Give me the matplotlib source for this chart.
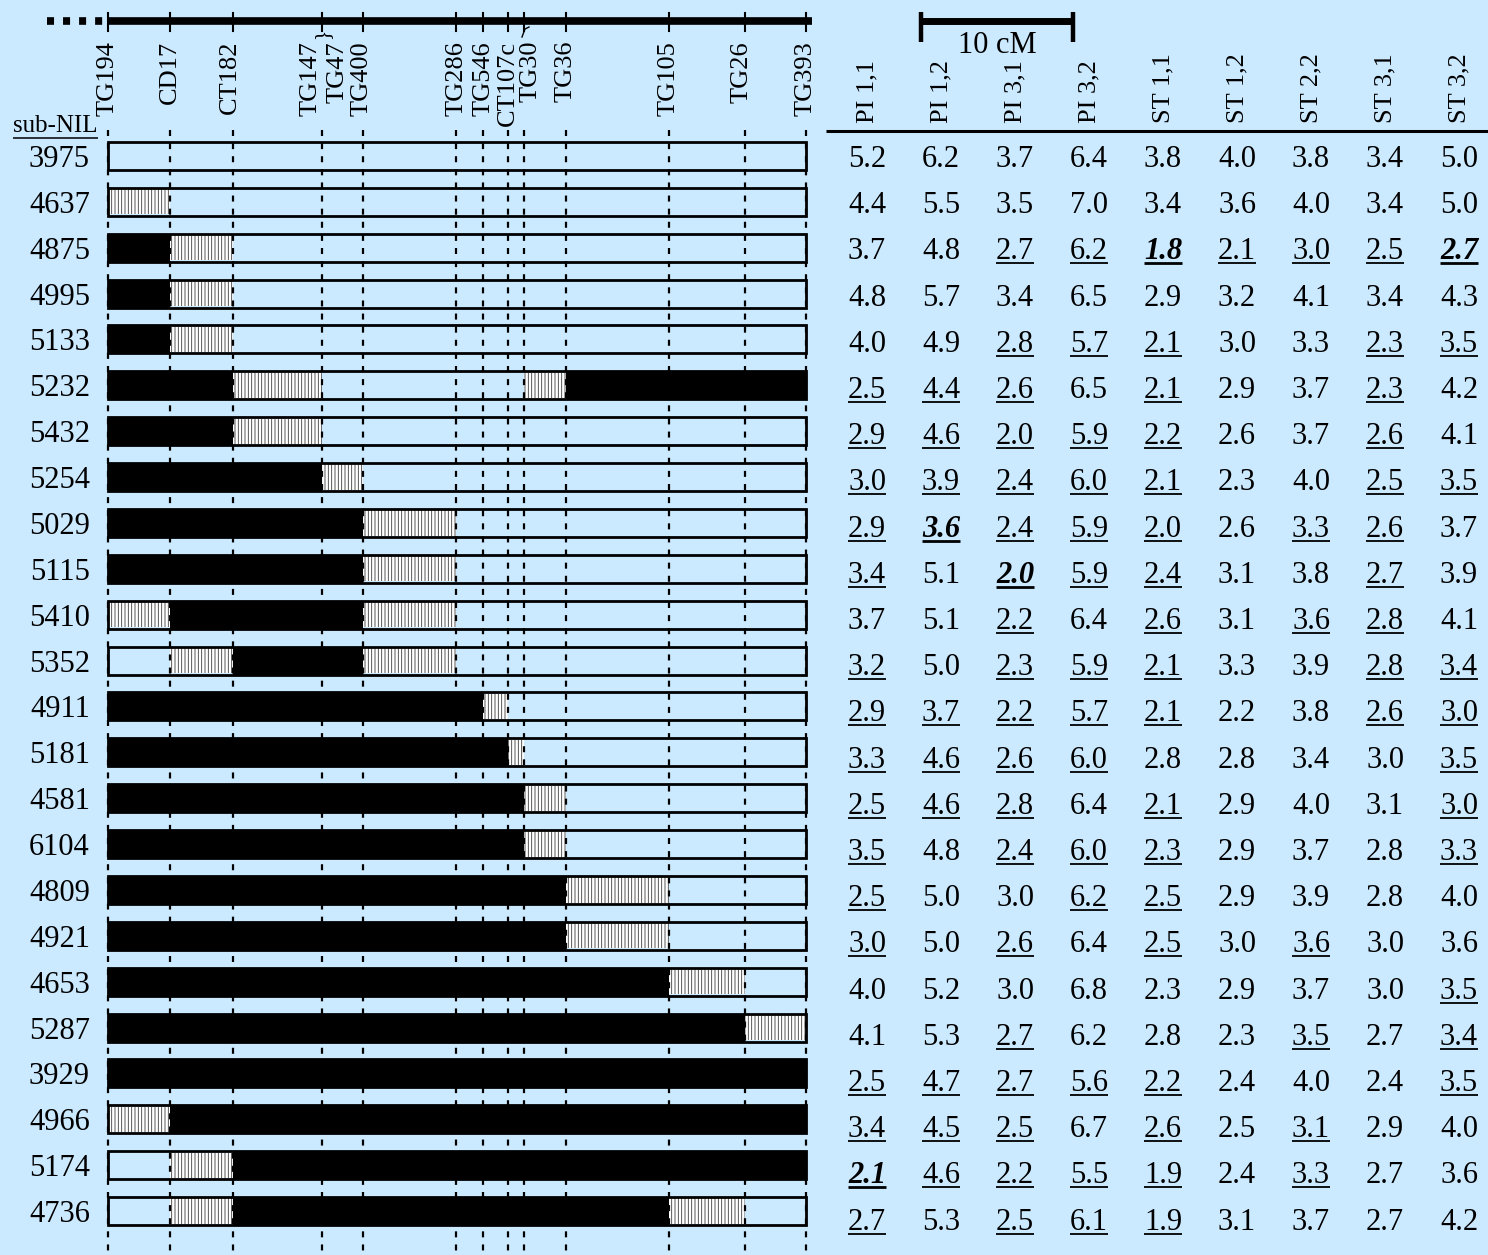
import matplotlib
matplotlib.use("Agg")
import matplotlib.pyplot as plt
from matplotlib.patches import Rectangle

plt.rcParams["font.family"] = ["Liberation Serif", "DejaVu Serif"]
plt.rcParams["hatch.linewidth"] = 0.6

# ---- genetic map of the introgressed region (cM from TG194) ----
markers = ["TG194", "CD17", "CT182", "TG147", "TG47", "TG400", "TG286", "TG546",
           "CT107c", "TG30", "TG36", "TG105", "TG26", "TG393"]
marker_cM = [0.0, 4.1, 8.2, 14.1, 14.1, 16.8, 22.9, 24.7, 26.3, 27.4, 30.1, 36.9, 41.9, 45.9]

# ---- sub-NIL graphical genotypes, one code per marker interval ----
# B = introgressed, H = breakpoint interval, . = recurrent parent
sub_nils = ["3975", "4637", "4875", "4995", "5133", "5232", "5432", "5254", "5029", "5115",
            "5410", "5352", "4911", "5181", "4581", "6104", "4809", "4921", "4653", "5287",
            "3929", "4966", "5174", "4736"]
genotypes = ["............", "H...........", "BH..........", "BH..........", "BH..........",
             "BBH.....HBBB", "BBH.........", "BBBH........", "BBBBH.......", "BBBBH.......",
             "HBBBH.......", ".HBBH.......", "BBBBBBH.....", "BBBBBBBH....", "BBBBBBBBH...",
             "BBBBBBBBH...", "BBBBBBBBBH..", "BBBBBBBBBH..", "BBBBBBBBBBH.", "BBBBBBBBBBBH",
             "BBBBBBBBBBBB", "HBBBBBBBBBBB", ".HBBBBBBBBBB", ".HBBBBBBBBH."]

# ---- trait means per sub-NIL ----
traits = ["PI 1,1", "PI 1,2", "PI 3,1", "PI 3,2", "ST 1,1", "ST 1,2", "ST 2,2", "ST 3,1", "ST 3,2"]
pi_1_1 = [5.2, 4.4, 3.7, 4.8, 4.0, 2.5, 2.9, 3.0, 2.9, 3.4, 3.7, 3.2, 2.9, 3.3, 2.5, 3.5, 2.5, 3.0, 4.0, 4.1, 2.5, 3.4, 2.1, 2.7]
pi_1_2 = [6.2, 5.5, 4.8, 5.7, 4.9, 4.4, 4.6, 3.9, 3.6, 5.1, 5.1, 5.0, 3.7, 4.6, 4.6, 4.8, 5.0, 5.0, 5.2, 5.3, 4.7, 4.5, 4.6, 5.3]
pi_3_1 = [3.7, 3.5, 2.7, 3.4, 2.8, 2.6, 2.0, 2.4, 2.4, 2.0, 2.2, 2.3, 2.2, 2.6, 2.8, 2.4, 3.0, 2.6, 3.0, 2.7, 2.7, 2.5, 2.2, 2.5]
pi_3_2 = [6.4, 7.0, 6.2, 6.5, 5.7, 6.5, 5.9, 6.0, 5.9, 5.9, 6.4, 5.9, 5.7, 6.0, 6.4, 6.0, 6.2, 6.4, 6.8, 6.2, 5.6, 6.7, 5.5, 6.1]
st_1_1 = [3.8, 3.4, 1.8, 2.9, 2.1, 2.1, 2.2, 2.1, 2.0, 2.4, 2.6, 2.1, 2.1, 2.8, 2.1, 2.3, 2.5, 2.5, 2.3, 2.8, 2.2, 2.6, 1.9, 1.9]
st_1_2 = [4.0, 3.6, 2.1, 3.2, 3.0, 2.9, 2.6, 2.3, 2.6, 3.1, 3.1, 3.3, 2.2, 2.8, 2.9, 2.9, 2.9, 3.0, 2.9, 2.3, 2.4, 2.5, 2.4, 3.1]
st_2_2 = [3.8, 4.0, 3.0, 4.1, 3.3, 3.7, 3.7, 4.0, 3.3, 3.8, 3.6, 3.9, 3.8, 3.4, 4.0, 3.7, 3.9, 3.6, 3.7, 3.5, 4.0, 3.1, 3.3, 3.7]
st_3_1 = [3.4, 3.4, 2.5, 3.4, 2.3, 2.3, 2.6, 2.5, 2.6, 2.7, 2.8, 2.8, 2.6, 3.0, 3.1, 2.8, 2.8, 3.0, 3.0, 2.7, 2.4, 2.9, 2.7, 2.7]
st_3_2 = [5.0, 5.0, 2.7, 4.3, 3.5, 4.2, 4.1, 3.5, 3.7, 3.9, 4.1, 3.4, 3.0, 3.5, 3.0, 3.3, 4.0, 3.6, 3.5, 3.4, 3.5, 4.0, 3.6, 4.2]
trait_columns = [pi_1_1, pi_1_2, pi_3_1, pi_3_2, st_1_1, st_1_2, st_2_2, st_3_1, st_3_2]

# u = significantly lower than control (underlined), b = strongest effect (bold italic, underlined)
significance = [".........", ".........", "..uubuuub", ".........", "..uuu..uu",
                "uuu.u..u.", "uuuuu..u.", "uuuuu..uu", "ubuuu.uu.", "u.buu..u.",
                "..u.u.uu.", "u.uuu..uu", "uuuuu..uu", "uuuu....u", "uuu.u...u",
                "u.uuu...u", "u..uu....", "u.u.u.u..", "........u", "..u...u.u",
                "uuuuu...u", "uuu.u.u..", "buuuu.u..", "u.uuu...."]

BG = "#cceaff"
W, H, DPI = 1488, 1255, 100
fig = plt.figure(figsize=(W / DPI, H / DPI), dpi=DPI, facecolor=BG)

# ---------------- map panel: x in cM, y in sub-NIL rows ----------------
PX_PER_CM = 15.2
MAP_LEFT = 108
ROW_TOP = 156
ROW_STEP = 45.87

ax = fig.add_axes([0, 0, 1, 1])
ax.set_facecolor(BG)
ax.axis("off")


def cx(px):
    return (px - MAP_LEFT) / PX_PER_CM


def ry(px):
    return (px - ROW_TOP) / ROW_STEP


positions = sorted(set(marker_cM))
bar_h = 0.61

for i, (name, geno) in enumerate(zip(sub_nils, genotypes)):
    for k, code in enumerate(geno):
        x0, x1 = positions[k], positions[k + 1]
        if code == "B":
            ax.add_patch(Rectangle((x0, i - bar_h / 2), x1 - x0, bar_h,
                                   facecolor="black", edgecolor="none", zorder=2))
        elif code == "H":
            ax.add_patch(Rectangle((x0, i - bar_h / 2 + 0.03), x1 - x0, bar_h - 0.06,
                                   facecolor="white", edgecolor="#3a3a3a", linewidth=0,
                                   hatch="|||||", zorder=2))
    ax.add_patch(Rectangle((positions[0], i - bar_h / 2), positions[-1] - positions[0], bar_h,
                           facecolor="none", edgecolor="black", linewidth=2.0, zorder=4))
    ax.text(cx(90), i + 11 / ROW_STEP, name, ha="right", va="baseline", fontsize=22)

# dashed marker guides
for p in positions:
    ax.plot([p, p], [ry(130), ry(H + 5)], color="black", lw=1.6,
            linestyle=(0, (2.7, 3.2)), zorder=3)

# chromosome bar with marker ticks
ax.plot([positions[0], positions[-1] + 0.4], [ry(21), ry(21)], color="black", lw=5.5,
        solid_capstyle="butt")
ax.plot([cx(47), cx(103)], [ry(21), ry(21)], color="black", lw=5.5,
        linestyle=(0, (0.92, 1.18)), dash_capstyle="butt")
for p in positions:
    ax.plot([p, p], [ry(13), ry(31)], color="black", lw=1.5)

label_nudge_px = {"TG147": -12, "TG47": 15, "TG30": 6, "CT182": -3, "TG26": -3, "TG400": -2}
for m, p in zip(markers, marker_cM):
    ax.text(p + label_nudge_px.get(m, 0) / PX_PER_CM, ry(41), m, rotation=90,
            ha="center", va="top", fontsize=19)
# TG147 / TG47 share a position
ax.text(marker_cM[3], ry(34), "}", rotation=90, ha="center", va="center", fontsize=15)
ax.plot([cx(522), cx(525), cx(529)], [ry(37), ry(29), ry(27)], color="black", lw=1.0)

sub_lbl = ax.text(cx(13), ry(132), "sub-NIL", ha="left", va="baseline", fontsize=18)

# 10 cM scale bar
sb = cx(921)
ax.plot([sb, sb + 10], [ry(21), ry(21)], color="black", lw=5, solid_capstyle="butt")
for xx in (sb, sb + 10):
    ax.plot([xx, xx], [ry(12), ry(42)], color="black", lw=3.2, solid_capstyle="butt")
ax.text(sb + 5, ry(53), "10 cM", ha="center", va="baseline", fontsize=22)

ax.set_xlim(cx(0), cx(W))
ax.set_ylim(ry(H), ry(0))

# ---------------- trait table: x in columns, y in rows ----------------
TAB_LEFT = 867
COL_STEP = 74.0
TROW_TOP = 157
TROW_STEP = 46.2

axt = fig.add_axes([0, 0, 1, 1])
axt.patch.set_visible(False)
axt.axis("off")


def tx(px):
    return (px - TAB_LEFT) / COL_STEP


def ty(px):
    return (px - TROW_TOP) / TROW_STEP


for j, t in enumerate(traits):
    axt.text(j, ty(123), t, rotation=90, ha="center", va="bottom", fontsize=19)
axt.plot([tx(826), tx(W)], [ty(131), ty(131)], color="black", lw=2.2, solid_capstyle="butt")

underlines = []
for j, col in enumerate(trait_columns):
    for i, v in enumerate(col):
        mark = significance[i][j]
        style = dict(fontweight="bold", fontstyle="italic") if mark == "b" else {}
        txt = axt.text(j, i + 10 / TROW_STEP, f"{v:.1f}", ha="center", va="baseline",
                       fontsize=22, **style)
        if mark in "ub":
            underlines.append((txt, i + 14 / TROW_STEP, 2.0 if mark == "b" else 1.3))

axt.set_xlim(tx(0), tx(W))
axt.set_ylim(ty(H), ty(0))

# underline significant values using their rendered extents
fig.canvas.draw()
renderer = fig.canvas.get_renderer()
inv_t = axt.transData.inverted()
for txt, y, lw in underlines:
    bb = txt.get_window_extent(renderer)
    (xa, _), (xb, _) = inv_t.transform([(bb.x0, 0), (bb.x1, 0)])
    axt.plot([xa, xb], [y, y], color="black", lw=lw, solid_capstyle="butt")

bb = sub_lbl.get_window_extent(renderer)
inv_m = ax.transData.inverted()
(xa, _), (xb, _) = inv_m.transform([(bb.x0, 0), (bb.x1, 0)])
ax.plot([xa, xb], [ry(138), ry(138)], color="black", lw=1.1, solid_capstyle="butt")
ax.set_xlim(cx(0), cx(W))
ax.set_ylim(ry(H), ry(0))

fig.savefig("out.png", dpi=DPI, facecolor=BG)
